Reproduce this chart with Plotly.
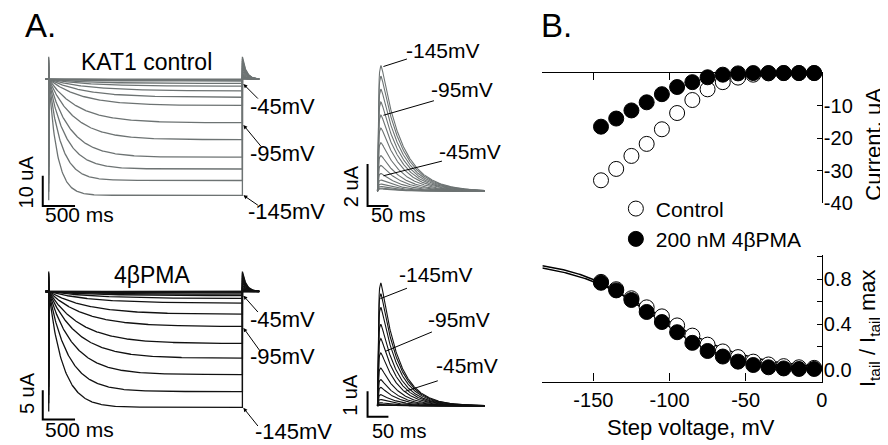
import numpy as np
import plotly.graph_objects as go

W, H = 888, 445
FONT = "Liberation Sans, Arial, sans-serif"
GRAY = "#6d7373"
BLACK = "#111111"

# ---------------- data ----------------
VOLTAGES = [-145, -135, -125, -115, -105, -95, -85, -75, -65, -55, -45, -35, -25, -15, -5]

# Panel B top: steady-state current (uA)
CTRL_CURRENT = [-33.0, -29.5, -25.5, -21.8, -17.3, -12.3, -8.3, -5.0, -2.8, -1.4, -0.5, -0.1, 0.0, 0.0, 0.0]
PMA_CURRENT = [-16.5, -14.0, -11.5, -9.0, -6.5, -4.3, -2.8, -1.3, -0.5, -0.1, 0.0, 0.0, 0.0, 0.0, 0.0]

# Panel B bottom: normalised tail current
CTRL_NORM = [0.775, 0.71, 0.63, 0.55, 0.47, 0.39, 0.30, 0.22, 0.16, 0.11, 0.07, 0.045, 0.03, 0.02, 0.015]
PMA_NORM = [0.767, 0.70, 0.615, 0.509, 0.42, 0.33, 0.236, 0.164, 0.115, 0.07, 0.04, 0.02, 0.01, 0.005, 0.005]

# Boltzmann fit parameters (V_half mV, slope mV, max)
CTRL_FIT = (-108.0, 30.0, 0.97)
PMA_FIT = (-112.0, 25.0, 0.97)

# Panel A: steady-state amplitude at end of step (uA) and activation time constant (s)
CTRL_STEADY = [38.4, 33.5, 29.7, 25.8, 20.0, 14.4, 8.7, 6.0, 3.9, 2.3, 1.4, 0.6, 0.3, 0.15, 0.05]
CTRL_TAU = [0.13, 0.19, 0.26, 0.33, 0.40, 0.45, 0.50, 0.55, 0.60, 0.60, 0.60, 0.60, 0.60, 0.60, 0.60]
PMA_STEADY = [19.8, 17.1, 14.2, 11.4, 8.9, 6.0, 3.9, 2.0, 1.2, 0.7, 0.45, 0.25, 0.1, 0.05, 0.0]
PMA_TAU = [0.22, 0.30, 0.38, 0.45, 0.50, 0.55, 0.60, 0.65, 0.70, 0.70, 0.70, 0.70, 0.70, 0.70, 0.70]

STEP_DURATION = 3.0          # s
CTRL_STEP_TAIL_PEAK = 7.4    # uA at -145 mV, in step panel
PMA_STEP_TAIL_PEAK = 3.4
CTRL_ONSET = (7.4, 40.0)     # capacitive transient up / down at -145 mV (uA)
PMA_ONSET = (3.4, 20.5)
STEP_TAIL_TAU = 0.06         # s

CTRL_TAIL_PEAK = 6.0         # uA at -145 mV, tail panel
PMA_TAIL_PEAK = 4.85
CTRL_TAIL_TAU = 50.0         # ms
PMA_TAIL_TAU = 42.0
TAIL_RISE_TAU = 2.5
TAIL_DURATION = 257.0        # ms

SCALE_STEP_T = 0.5           # s
SCALE_CTRL_I = 10.0          # uA
SCALE_PMA_I = 5.0
SCALE_TAIL_T = 50.0          # ms
SCALE_CTRL_TAIL_I = 2.0
SCALE_PMA_TAIL_I = 1.0

IV_TICKS = [-40, -30, -20, -10]
IV_TICK_TEXT = ["-40", "-30", "-20", "-10"]
NORM_TICKS = [0.0, 0.4, 0.8]
NORM_TICK_TEXT = ["0.0", "0.4", "0.8"]
V_TICKS = [-150, -100, -50, 0]
V_TICK_TEXT = ["-150", "-100", "-50", "0"]


# ---------------- helpers ----------------
def xdom(p0, p1):
    return [p0 / W, p1 / W]


def ydom(top, bottom):
    return [1 - bottom / H, 1 - top / H]


def xr(p0, p1, origin, scale):
    return [(p0 - origin) / scale, (p1 - origin) / scale]


def yr(top, bottom, origin, scale):
    return [(origin - bottom) / scale, (origin - top) / scale]


def px2x(p, origin, scale):
    return (p - origin) / scale


def px2y(p, origin, scale):
    return (origin - p) / scale


fig = go.Figure()

# panel geometry (pixel origin / pixel per unit)
A1 = dict(xo=41, xs=65.0, yo=73.0, ys=3.1, box=(25, 265, 30, 212))
A3 = dict(xo=41, xs=65.0, yo=290.7, ys=6.0, box=(25, 265, 250, 445))
A2 = dict(xo=372, xs=0.42, yo=188.0, ys=21.5, box=(335, 505, 25, 215))
A4 = dict(xo=372, xs=0.42, yo=408.0, ys=26.0, box=(335, 505, 250, 445))


def step_sweeps(steady, taus, norm, tail_peak, onset, color, xa, ya):
    t_act = np.linspace(0, STEP_DURATION, 320)
    t_tail = np.linspace(STEP_DURATION, STEP_DURATION + 0.26, 60)
    for k, v in enumerate(VOLTAGES):
        s = v / VOLTAGES[0]
        i_act = -steady[k] * (1 - np.exp(-t_act / taus[k]))
        pk = tail_peak * norm[k] / norm[0]
        i_tail = pk * np.exp(-(t_tail - STEP_DURATION) / STEP_TAIL_TAU)
        t = np.concatenate([[-0.05, 0, 0, 0], t_act[1:], t_tail])
        i = np.concatenate([[0, 0, onset[0] * s, -onset[1] * s], i_act[1:], i_tail])
        fig.add_trace(go.Scatter(x=t, y=i, mode="lines", line=dict(color=color, width=1.3),
                                 xaxis=xa, yaxis=ya, showlegend=False, hoverinfo="skip"))


def tail_sweeps(norm, peak, tau_d, color, xa, ya):
    t = np.linspace(0, TAIL_DURATION, 260)
    shape = np.exp(-t / tau_d) - np.exp(-t / TAIL_RISE_TAU)
    shape = shape / shape.max()
    for k, v in enumerate(VOLTAGES):
        fig.add_trace(go.Scatter(x=t, y=peak * norm[k] / norm[0] * shape, mode="lines",
                                 line=dict(color=color, width=1.1),
                                 xaxis=xa, yaxis=ya, showlegend=False, hoverinfo="skip"))


def scale_bar(geom, tlen, ilen, corner_px, xa, ya):
    x0 = px2x(corner_px[0], geom["xo"], geom["xs"])
    y0 = px2y(corner_px[1], geom["yo"], geom["ys"])
    fig.add_trace(go.Scatter(x=[x0, x0, x0 + tlen], y=[y0 + ilen, y0, y0], mode="lines",
                             line=dict(color="black", width=2), xaxis=xa, yaxis=ya,
                             showlegend=False, hoverinfo="skip"))


step_sweeps(CTRL_STEADY, CTRL_TAU, CTRL_NORM, CTRL_STEP_TAIL_PEAK, CTRL_ONSET, GRAY, "x", "y")
scale_bar(A1, SCALE_STEP_T, SCALE_CTRL_I, (35, 203), "x", "y")
tail_sweeps(CTRL_NORM, CTRL_TAIL_PEAK, CTRL_TAIL_TAU, GRAY, "x2", "y2")
scale_bar(A2, SCALE_TAIL_T, SCALE_CTRL_TAIL_I, (362, 203), "x2", "y2")
step_sweeps(PMA_STEADY, PMA_TAU, PMA_NORM, PMA_STEP_TAIL_PEAK, PMA_ONSET, BLACK, "x3", "y3")
scale_bar(A3, SCALE_STEP_T, SCALE_PMA_I, (35, 422), "x3", "y3")
tail_sweeps(PMA_NORM, PMA_TAIL_PEAK, PMA_TAIL_TAU, BLACK, "x4", "y4")
scale_bar(A4, SCALE_TAIL_T, SCALE_PMA_TAIL_I, (362, 419), "x4", "y4")

# ---------------- panel B ----------------
B_XRANGE = [-183.5, 0]
vfit = np.linspace(B_XRANGE[0], 0, 200)
for (vh, k, a) in (CTRL_FIT, PMA_FIT):
    fig.add_trace(go.Scatter(x=vfit, y=a / (1 + np.exp((vfit - vh) / k)), mode="lines",
                             line=dict(color="black", width=1.5), xaxis="x6", yaxis="y6",
                             showlegend=False, hoverinfo="skip"))

open_marker = dict(symbol="circle", size=15, color="white", line=dict(color="black", width=1))
fill_marker = dict(symbol="circle", size=15, color="black", line=dict(color="black", width=1))

fig.add_trace(go.Scatter(x=VOLTAGES, y=CTRL_CURRENT, mode="markers", marker=open_marker,
                         name="Control", xaxis="x5", yaxis="y5", cliponaxis=False))
fig.add_trace(go.Scatter(x=VOLTAGES, y=PMA_CURRENT, mode="markers", marker=fill_marker,
                         name="200 nM 4βPMA", xaxis="x5", yaxis="y5", cliponaxis=False))
fig.add_trace(go.Scatter(x=VOLTAGES, y=CTRL_NORM, mode="markers", marker=open_marker,
                         showlegend=False, xaxis="x6", yaxis="y6", cliponaxis=False))
fig.add_trace(go.Scatter(x=VOLTAGES, y=PMA_NORM, mode="markers", marker=fill_marker,
                         showlegend=False, xaxis="x6", yaxis="y6", cliponaxis=False))

hidden = dict(visible=False, showgrid=False, zeroline=False, fixedrange=True)


def panel_axes(geom, xname, yname):
    x0, x1, y0, y1 = geom["box"]
    return {
        xname: dict(hidden, domain=xdom(x0, x1), range=xr(x0, x1, geom["xo"], geom["xs"]),
                    anchor=yname.replace("axis", "")),
        yname: dict(hidden, domain=ydom(y0, y1), range=yr(y0, y1, geom["yo"], geom["ys"]),
                    anchor=xname.replace("axis", "")),
    }


layout_axes = {}
layout_axes.update(panel_axes(A1, "xaxis", "yaxis"))
layout_axes.update(panel_axes(A2, "xaxis2", "yaxis2"))
layout_axes.update(panel_axes(A3, "xaxis3", "yaxis3"))
layout_axes.update(panel_axes(A4, "xaxis4", "yaxis4"))

axis_common = dict(showgrid=False, zeroline=False, showline=True, linecolor="black", linewidth=1.2,
                   ticks="inside", tickcolor="black", tickwidth=1.2, fixedrange=True,
                   tickfont=dict(family=FONT, size=20, color="black"))

layout_axes["xaxis5"] = dict(axis_common, domain=xdom(538, 819.3), range=B_XRANGE, side="top",
                             anchor="y5", tickmode="array", tickvals=V_TICKS,
                             showticklabels=False, ticklen=7)
layout_axes["yaxis5"] = dict(axis_common, domain=ydom(66.7, 200), range=[-40, 0], side="right",
                             anchor="x5", tickmode="array", tickvals=IV_TICKS, ticktext=IV_TICK_TEXT,
                             ticklen=5, ticklabelstandoff=-3)
layout_axes["xaxis6"] = dict(axis_common, domain=xdom(538, 819.3), range=B_XRANGE, side="bottom",
                             anchor="y6", tickmode="array", tickvals=V_TICKS, ticktext=V_TICK_TEXT,
                             ticklen=8)
layout_axes["yaxis6"] = dict(axis_common, domain=ydom(253, 383), range=[-0.106, 1.015], side="right",
                             anchor="x6", tickmode="array", tickvals=NORM_TICKS,
                             ticktext=NORM_TICK_TEXT, ticklen=5, ticklabelstandoff=-3,
                             minor=dict(tick0=0, dtick=0.2, ticks="inside", ticklen=5,
                                        tickcolor="black", tickwidth=1.2, showgrid=False))

anns = []


def text(t, x, y, size, angle=0, xanchor="center"):
    anns.append(dict(text=t, x=x / W, y=1 - y / H, xref="paper", yref="paper", showarrow=False,
                     xanchor=xanchor, yanchor="middle", textangle=angle,
                     font=dict(family=FONT, size=size, color="black")))


def pointer(tip, tail, head):
    anns.append(dict(text=" ", x=tip[0] / W, y=1 - tip[1] / H, xref="paper", yref="paper",
                     ax=tail[0] - tip[0], ay=tail[1] - tip[1], axref="pixel", ayref="pixel",
                     showarrow=True, arrowhead=2 if head else 0, arrowsize=0.8, arrowwidth=1,
                     arrowcolor="black", standoff=0, startstandoff=0,
                     font=dict(size=1)))


text("A.", 15, 18, 33, xanchor="left")
text("B.", 535, 18, 33, xanchor="left")
text("KAT1 control", 139, 55, 23)
text("4βPMA", 145, 274, 23)

# step labels
DX = -6
DY = -3
for lab, tp, tl, pos in [("-45mV", (237, 78), (253, 94), (248, 104)),
                         ("-95mV", (237, 120), (256, 143), (248, 152)),
                         ("-145mV", (237, 192), (253, 203), (246, 212)),
                         ("-45mV", (237, 295), (253, 313), (248, 322)),
                         ("-95mV", (237, 328), (255, 353), (248, 360)),
                         ("-145mV", (237, 410), (253, 430), (253, 437))]:
    pointer(tp, tl, True)
    text(lab, pos[0] + DX, pos[1] + DY, 22, xanchor="left")

for lab, tp, tl, pos in [("-145mV", (378, 60), (403, 52), (405, 47)),
                         ("-95mV", (378, 110), (430, 95), (430, 87)),
                         ("-45mV", (378, 172), (438, 157), (438, 150)),
                         ("-145mV", (375, 298), (403, 287), (398, 276)),
                         ("-95mV", (380, 352), (428, 332), (427, 322)),
                         ("-45mV", (400, 393), (434, 382), (435, 370))]:
    pointer(tp, tl, False)
    text(lab, pos[0] + DX, pos[1] + DY, 21, xanchor="left")

text("500 ms", 72, 212, 21)
text("500 ms", 72, 432, 21)
text("10 uA", 18, 178, 20, angle=-90)
text("5 uA", 19, 395, 20, angle=-90)
text("50 ms", 393, 212, 20)
text("50 ms", 394, 434, 20)
text("2 uA", 346, 183, 20, angle=-90)
text("1 uA", 345, 397, 20, angle=-90)

text("Current. uA", 871, 140, 22, angle=-90)
text("I<sub>tail</sub> / I<sub>tail</sub> max", 867, 328, 22, angle=-90)
text("Step voltage, mV", 688, 430, 22)

fig.update_layout(
    width=W, height=H, margin=dict(l=0, r=0, t=0, b=0),
    paper_bgcolor="white", plot_bgcolor="rgba(0,0,0,0)",
    font=dict(family=FONT, size=20, color="black"),
    showlegend=True,
    legend=dict(x=612 / W, y=1 - 185 / H, xanchor="left", yanchor="top",
                bgcolor="rgba(0,0,0,0)", borderwidth=0,
                font=dict(family=FONT, size=21, color="black")),
    annotations=anns,
    **layout_axes,
)

fig.write_html("out.html")
